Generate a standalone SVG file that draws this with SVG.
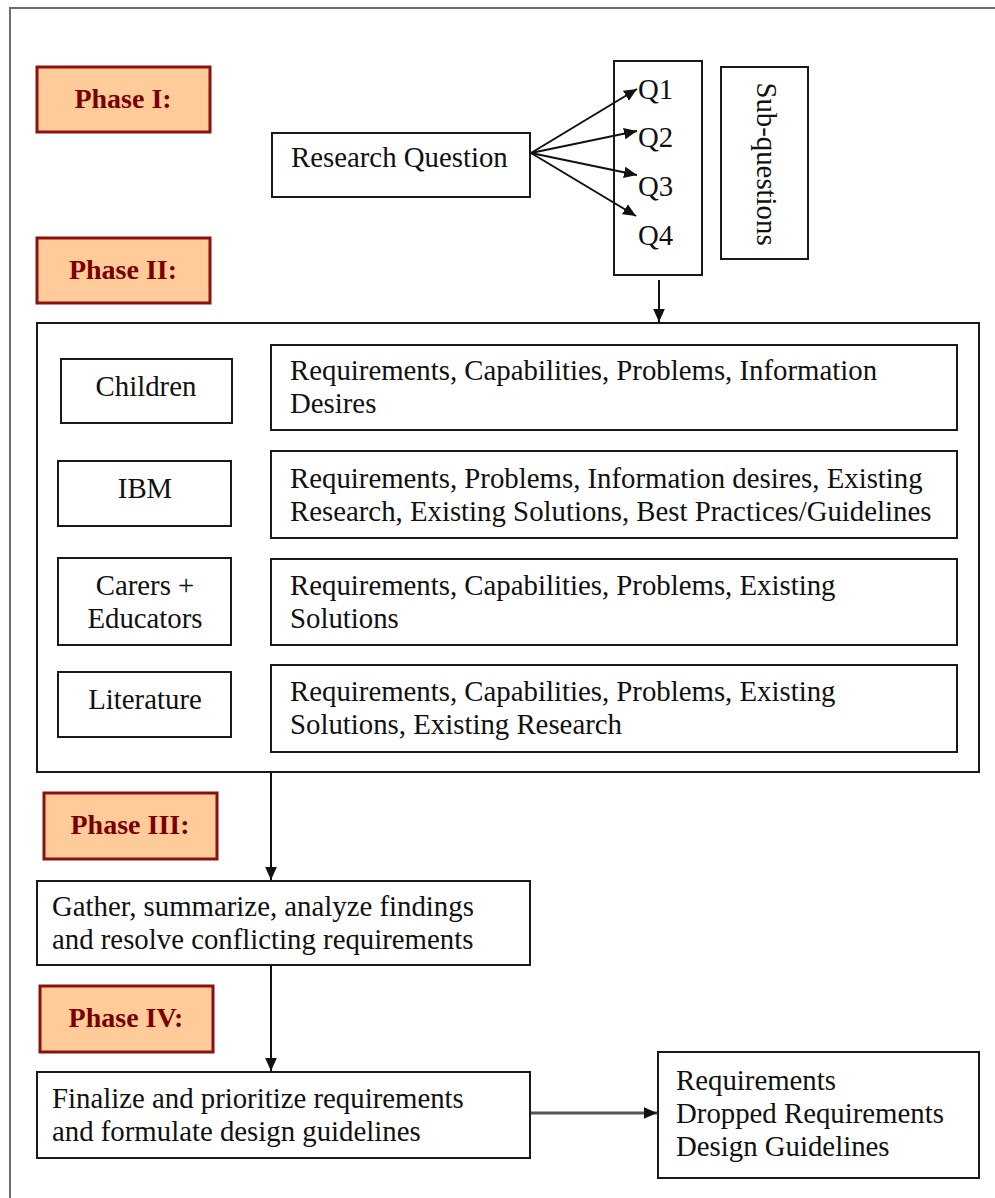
<svg xmlns="http://www.w3.org/2000/svg" width="995" height="1198" viewBox="0 0 995 1198">
  <style>
    .box { fill: #ffffff; stroke: #1a1a1a; stroke-width: 2; }
    .phase { fill: #ffcc99; stroke: #8b1010; stroke-width: 3; }
    .ptxt { font-family: "Liberation Serif", "Times New Roman", serif; font-size: 28px; font-weight: bold; fill: #7a0000; text-anchor: middle; }
    .txt { font-family: "Liberation Serif", "Times New Roman", serif; font-size: 28.8px; fill: #111111; }
    .mid { text-anchor: middle; }
    .conn { stroke: #111111; stroke-width: 2; fill: none; }
  </style>
  <defs>
    <marker id="arrow" viewBox="0 0 10 10" refX="10" refY="5" markerWidth="6.5" markerHeight="6.5" markerUnits="strokeWidth" orient="auto">
      <path d="M0,0.5 L10,5 L0,9.5 z" fill="#111111"/>
    </marker>
    <marker id="arrowGrey" viewBox="0 0 10 10" refX="10" refY="5" markerWidth="4.5" markerHeight="4.5" markerUnits="strokeWidth" orient="auto">
      <path d="M0,0.5 L10,5 L0,9.5 z" fill="#111111"/>
    </marker>
  </defs>

  <rect width="995" height="1198" fill="#ffffff"/>

  <!-- outer frame (top and left edges) -->
  <g id="frame">
    <path d="M10,1198 V8 H995" fill="none" stroke="#6e6e6e" stroke-width="2"/>
  </g>

  <!-- phase labels -->
  <g id="phase1">
    <rect class="phase" x="37" y="67" width="173" height="65"/>
    <text class="ptxt" x="123" y="108">Phase I:</text>
  </g>
  <g id="phase2">
    <rect class="phase" x="37" y="238" width="173" height="65"/>
    <text class="ptxt" x="123" y="279">Phase II:</text>
  </g>
  <g id="phase3">
    <rect class="phase" x="44" y="793" width="173" height="66"/>
    <text class="ptxt" x="130" y="834">Phase III:</text>
  </g>
  <g id="phase4">
    <rect class="phase" x="40" y="986" width="173" height="66"/>
    <text class="ptxt" x="126" y="1027">Phase IV:</text>
  </g>

  <!-- phase I: research question and sub-questions -->
  <g id="research-question">
    <rect class="box" x="272" y="133" width="258" height="64"/>
    <text class="txt" x="291" y="167">Research Question</text>
  </g>
  <g id="sub-question-list">
    <rect class="box" x="614" y="61" width="88" height="214"/>
    <text class="txt" x="638" y="99">Q1</text>
    <text class="txt" x="638" y="147">Q2</text>
    <text class="txt" x="638" y="196">Q3</text>
    <text class="txt" x="638" y="245">Q4</text>
  </g>
  <g id="sub-questions-label">
    <rect class="box" x="721" y="67" width="87" height="192"/>
    <text class="txt mid" transform="translate(757,164) rotate(90)">Sub-questions</text>
  </g>

  <!-- phase II: sources and what is gathered from each -->
  <g id="sources">
    <rect class="box" x="37" y="323" width="942" height="449"/>
  </g>
  <g id="children">
    <rect class="box" x="61" y="359" width="171" height="64"/>
    <text class="txt mid" x="146" y="396">Children</text>
  </g>
  <g id="children-topics">
    <rect class="box" x="271" y="345" width="686" height="85"/>
    <text class="txt" x="290" y="380">Requirements, Capabilities, Problems, Information</text>
    <text class="txt" x="290" y="413">Desires</text>
  </g>
  <g id="ibm">
    <rect class="box" x="58" y="461" width="173" height="65"/>
    <text class="txt mid" x="145" y="498">IBM</text>
  </g>
  <g id="ibm-topics">
    <rect class="box" x="271" y="451" width="686" height="87"/>
    <text class="txt" x="290" y="488">Requirements, Problems, Information desires, Existing</text>
    <text class="txt" x="290" y="521">Research, Existing Solutions, Best Practices/Guidelines</text>
  </g>
  <g id="carers">
    <rect class="box" x="58" y="558" width="173" height="87"/>
    <text class="txt mid" x="145" y="595">Carers +</text>
    <text class="txt mid" x="145" y="628">Educators</text>
  </g>
  <g id="carers-topics">
    <rect class="box" x="271" y="559" width="686" height="86"/>
    <text class="txt" x="290" y="595">Requirements, Capabilities, Problems, Existing</text>
    <text class="txt" x="290" y="628">Solutions</text>
  </g>
  <g id="literature">
    <rect class="box" x="58" y="672" width="173" height="65"/>
    <text class="txt mid" x="145" y="709">Literature</text>
  </g>
  <g id="literature-topics">
    <rect class="box" x="271" y="665" width="686" height="87"/>
    <text class="txt" x="290" y="701">Requirements, Capabilities, Problems, Existing</text>
    <text class="txt" x="290" y="734">Solutions, Existing Research</text>
  </g>

  <!-- phase III -->
  <g id="analyze">
    <rect class="box" x="37" y="881" width="493" height="84"/>
    <text class="txt" x="52" y="916">Gather, summarize, analyze findings</text>
    <text class="txt" x="52" y="949">and resolve conflicting requirements</text>
  </g>

  <!-- phase IV -->
  <g id="finalize">
    <rect class="box" x="37" y="1072" width="493" height="86"/>
    <text class="txt" x="52" y="1108">Finalize and prioritize requirements</text>
    <text class="txt" x="52" y="1141">and formulate design guidelines</text>
  </g>
  <g id="outputs">
    <rect class="box" x="658" y="1052" width="321" height="126"/>
    <text class="txt" x="676" y="1090">Requirements</text>
    <text class="txt" x="676" y="1123">Dropped Requirements</text>
    <text class="txt" x="676" y="1156">Design Guidelines</text>
  </g>

  <!-- connectors -->
  <g id="connectors">
    <line class="conn" x1="531" y1="153" x2="637" y2="89" marker-end="url(#arrow)"/>
    <line class="conn" x1="531" y1="153" x2="637" y2="131" marker-end="url(#arrow)"/>
    <line class="conn" x1="531" y1="153" x2="637" y2="175" marker-end="url(#arrow)"/>
    <line class="conn" x1="531" y1="153" x2="636" y2="216" marker-end="url(#arrow)"/>
    <line class="conn" x1="659" y1="280" x2="659" y2="322" marker-end="url(#arrow)"/>
    <line class="conn" x1="271" y1="773" x2="271" y2="880" marker-end="url(#arrow)"/>
    <line class="conn" x1="271" y1="966" x2="271" y2="1071" marker-end="url(#arrow)"/>
    <line x1="531" y1="1113" x2="657" y2="1113" stroke="#555555" stroke-width="3" marker-end="url(#arrowGrey)"/>
  </g>
</svg>
